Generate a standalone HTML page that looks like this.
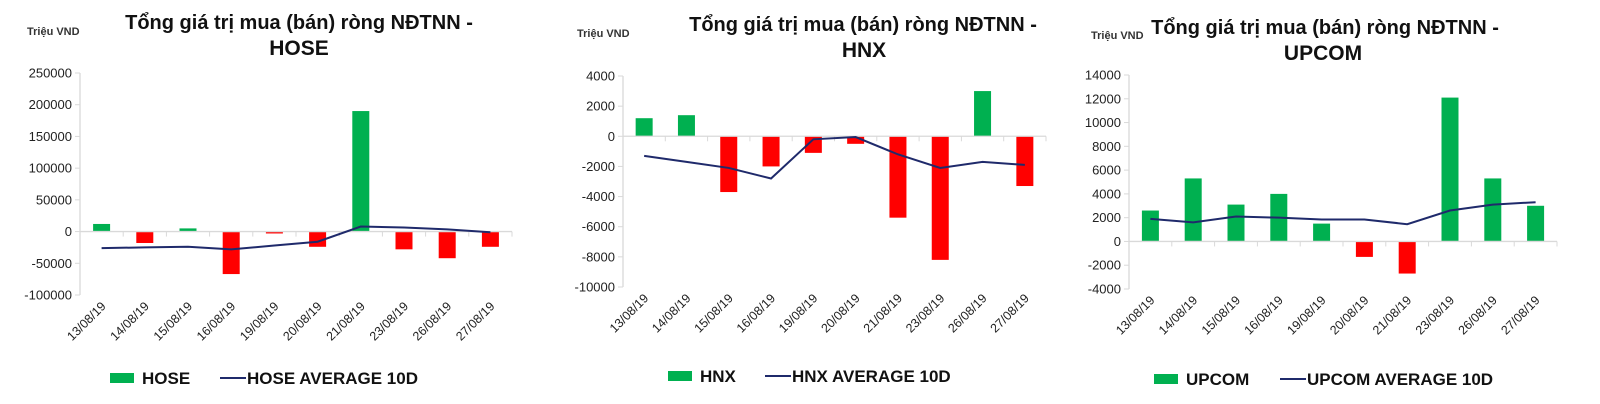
<!DOCTYPE html>
<html><head><meta charset="utf-8"><style>
body{margin:0;background:#fff;width:1600px;height:404px;overflow:hidden}
svg{display:block;font-family:"Liberation Sans","DejaVu Sans",sans-serif}
</style></head><body>
<svg id="s" width="1600" height="404"></svg>
<script>
const categories=["13/08/19","14/08/19","15/08/19","16/08/19","19/08/19","20/08/19","21/08/19","23/08/19","26/08/19","27/08/19"];
const hoseValues=[12000,-18000,5000,-67000,-3000,-24000,190000,-28000,-42000,-24000];
const hoseAvg=[-26000,-25000,-24000,-28000,-22000,-16000,8000,6500,3500,-1000];
const hoseTicks=[250000,200000,150000,100000,50000,0,-50000,-100000];
const hnxValues=[1200,1400,-3700,-2000,-1100,-500,-5400,-8200,3000,-3300];
const hnxAvg=[-1300,-1700,-2100,-2800,-200,-50,-1200,-2100,-1700,-1900];
const hnxTicks=[4000,2000,0,-2000,-4000,-6000,-8000,-10000];
const upcomValues=[2600,5300,3100,4000,1500,-1300,-2700,12100,5300,3000];
const upcomAvg=[1900,1600,2100,2000,1850,1850,1450,2600,3100,3300];
const upcomTicks=[14000,12000,10000,8000,6000,4000,2000,0,-2000,-4000];

const NS="http://www.w3.org/2000/svg";
const svg=document.getElementById('s');
function mk(tag,attrs,parent,txt){const e=document.createElementNS(NS,tag);for(const k in attrs)e.setAttribute(k,attrs[k]);if(txt!==undefined)e.textContent=txt;parent.appendChild(e);return e;}

function chart(cfg,vals,avg,ticks){
  const g=mk('g',{},svg);
  
  
  const max=ticks[0],min=ticks[ticks.length-1];
  const y=v=>cfg.top+(max-v)/(max-min)*(cfg.bottom-cfg.top);
  const step=(cfg.right-cfg.left)/categories.length;
  const x=i=>cfg.left+step*(i+0.5);
  const t1=mk('text',{x:cfg.tx,y:cfg.ty,'text-anchor':'middle','font-size':'20','font-weight':'bold',fill:'#111'},g,'Tổng giá trị mua (bán) ròng NĐTNN -');
  
  
  const t2=mk('text',{x:cfg.tx2,y:cfg.ty+26,'text-anchor':'middle','font-size':'21','font-weight':'bold',fill:'#111'},g,cfg.label);
  
  
  const u=mk('text',{x:cfg.ux,y:cfg.uy,'font-size':'11','font-weight':'bold',fill:'#333'},g,'Triệu VND');
  
  
  const ya=mk('line',{x1:cfg.left,x2:cfg.left,y1:cfg.top,y2:cfg.bottom,stroke:'#d9d9d9','stroke-width':1.3},g);
  
  
  ticks.forEach(tv=>{
    const yy=y(tv);
    const tl=mk('line',{x1:cfg.left-5,x2:cfg.left,y1:yy,y2:yy,stroke:'#d9d9d9'},g);
    
    
    const tt=mk('text',{x:cfg.left-8,y:yy+4.5,'text-anchor':'end','font-size':'13',fill:'#222'},g,String(tv));
    
    
  });
  vals.forEach((v,i)=>{
    const y0=y(0),y1=y(v);
    const b=mk('rect',{x:x(i)-8.5,y:Math.min(y0,y1),width:17,height:Math.abs(y1-y0),fill:v>=0?'#00b050':'#ff0000'},g);
    
    
  });
  const z=y(0);
  const xa=mk('line',{x1:cfg.left,x2:cfg.right,y1:z,y2:z,stroke:'#d9d9d9','stroke-width':1.3},g);
  
  
  for(let i=0;i<=categories.length;i++){
    const xx=cfg.left+step*i;
    const tk=mk('line',{x1:xx,x2:xx,y1:z,y2:z+5,stroke:'#d9d9d9'},g);
    
    
  }
  categories.forEach((c,i)=>{
    const lx=x(i)+5,ly=cfg.bottom+12;
    const tt=mk('text',{x:lx,y:ly,'text-anchor':'end','font-size':'12.5',fill:'#222',transform:`rotate(-45 ${lx} ${ly})`},g,c);
    
    
  });
  const pl=mk('polyline',{points:avg.map((v,i)=>x(i)+','+y(v)).join(' '),fill:'none',stroke:'#1f2a6b','stroke-width':2},g);
  
  
  const ly=cfg.legY;
  const ls=mk('rect',{x:cfg.lx,y:ly-5,width:24,height:10,fill:'#00b050'},g);
  
  
  const lt=mk('text',{x:cfg.lx+32,y:ly+6,'font-size':'17','font-weight':'bold',fill:'#111'},g,cfg.label);
  
  
  const ll=mk('line',{x1:cfg.lx2,x2:cfg.lx2+26,y1:ly,y2:ly,stroke:'#1f2a6b','stroke-width':2},g);
  
  
  const lt2=mk('text',{x:cfg.lx2+27,y:ly+6,'font-size':'17','font-weight':'bold',fill:'#111'},g,cfg.label+' AVERAGE 10D');
  
  
}
chart({key:'hose',label:'HOSE',left:80,right:512,top:73,bottom:295,tx:299,ty:29,tx2:299,ux:27,uy:35,legY:378,lx:110,lx2:220},hoseValues,hoseAvg,hoseTicks);
chart({key:'hnx',label:'HNX',left:623,right:1046,top:76,bottom:287,tx:863,ty:31,tx2:864,ux:577,uy:37,legY:376,lx:668,lx2:765},hnxValues,hnxAvg,hnxTicks);
chart({key:'upcom',label:'UPCOM',left:1129,right:1557,top:75,bottom:289,tx:1325,ty:34,tx2:1323,ux:1091,uy:39,legY:379,lx:1154,lx2:1280},upcomValues,upcomAvg,upcomTicks);
</script>
</body></html>
